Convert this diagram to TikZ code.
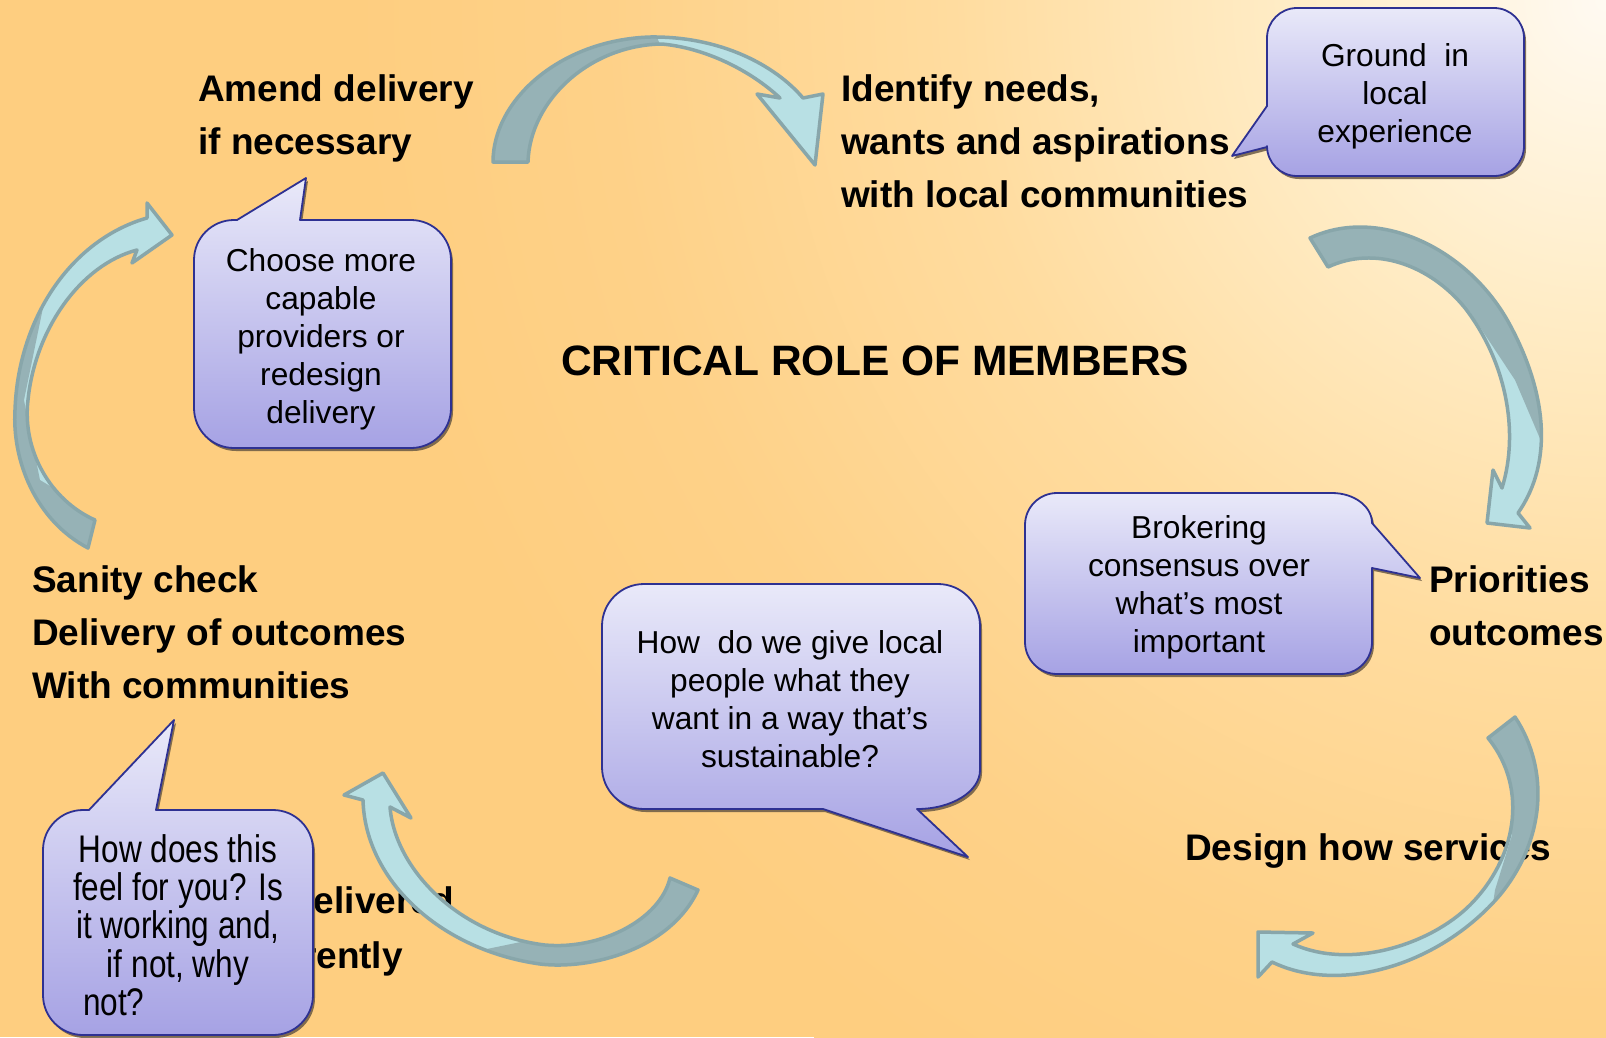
\documentclass[tikz,border=0pt]{standalone}
\usepackage{fontspec}
\setmainfont{Liberation Sans}
\newfontfamily\narrowfont[FakeStretch=0.82]{Liberation Sans}
\usetikzlibrary{shadows}
\definecolor{bgorange}{HTML}{FECE80}
\definecolor{bgcream}{HTML}{FFFAF2}
\definecolor{bgc1}{HTML}{FFEDC8}
\definecolor{bgc2}{HTML}{FFDC9F}
\definecolor{bgc3}{HTML}{FED188}
\definecolor{alight}{HTML}{B8E0E4}
\definecolor{adark}{HTML}{96B2B6}
\definecolor{aline}{HTML}{88A6AA}
\definecolor{ctop}{HTML}{E9E9F9}
\definecolor{cbot}{HTML}{A6A2E4}
\definecolor{cline}{HTML}{2E3192}
\definecolor{cshadow}{HTML}{6B5A45}
\pgfdeclareradialshading{bgrad}{\pgfpoint{0bp}{0bp}}{color(0bp)=(bgcream); color(300bp)=(bgc1); color(650bp)=(bgc2); color(1000bp)=(bgc3); color(1250bp)=(bgorange); color(1300bp)=(bgorange)}
\begin{document}
\begin{tikzpicture}[x=1pt,y=-1pt,
  lbl/.style={font=\bfseries\fontsize{37}{53.3}\selectfont, align=left, inner sep=0pt},
  ttl/.style={font=\bfseries\fontsize{42.5}{50}\selectfont, inner sep=0pt},
  ctext/.style={font=\fontsize{31.7}{38.1}\selectfont, align=center, inner sep=0pt},
  ntext/.style={font=\narrowfont\fontsize{38.5}{38.3}\selectfont, align=center, inner sep=0pt},
  callbox/.style={draw=cline, line width=1.8pt, line join=round, top color=ctop, bottom color=cbot,
     drop shadow={shadow xshift=2pt, shadow yshift=-3pt, fill=cshadow, opacity=0.85}},
  arrowfill/.style={fill=alight},
  arrowdark/.style={fill=adark},
  arrowedge/.style={draw=aline, line width=3.5pt, line join=round}]

% background
\useasboundingbox (0,0) rectangle (1606,1037);
\fill[bgorange] (0,0) rectangle (1606,1037);
\begin{scope}
  \clip (0,0) rectangle (1606,1037);
  \node[inner sep=0pt, outer sep=0pt] (glow) at (1606,0) {\pgfuseshading{bgrad}};
\end{scope}

% bold labels
\node[lbl, anchor=north west] (amend) at (198,74) {Amend delivery\\if necessary};
\node[lbl, anchor=north west] (identify) at (841,74) {Identify needs,\\wants and aspirations\\with local communities};
\node[lbl, anchor=north west] (priorities) at (1429,565) {Priorities\\outcomes};
\node[lbl, anchor=north west] (design) at (1185,833) {Design how services};
\node[lbl, anchor=north west] (sanity) at (32,565) {Sanity check\\Delivery of outcomes\\With communities};
\node[lbl, anchor=base east] (delivered) at (454,913) {delivered};
\node[lbl, anchor=base east] (differently) at (403,968) {rently};
\node[ttl, anchor=base west] (title) at (561,375) {CRITICAL ROLE OF MEMBERS};

% curved arrows
\def\arrowA{(493,162) .. controls (493,100) and (560,40) .. (650,37) .. controls (720,36) and (775,65) .. (803,98) -- (823,94) -- (815,165) -- (757,94) -- (780,98) .. controls (750,70) and (705,48) .. (662,44) .. controls (590,45) and (530,100) .. (528,162) -- cycle}
\def\arrowB{(1310,238) .. controls (1380,205) and (1470,250) .. (1510,325) .. controls (1545,390) and (1555,460) .. (1518,513) -- (1530,528) -- (1487,523) -- (1493,470) -- (1502,488) .. controls (1520,430) and (1505,360) .. (1465,308) .. controls (1430,265) and (1375,245) .. (1328,267) -- cycle}
\def\arrowC{(1515,717) .. controls (1550,770) and (1545,840) .. (1500,895) .. controls (1440,965) and (1340,995) .. (1272,962) -- (1258,977) -- (1258,932) -- (1313,933) -- (1293,944) .. controls (1350,970) and (1430,945) .. (1470,905) .. controls (1515,860) and (1530,790) .. (1488,738) -- cycle}
\def\arrowD{(698,890) .. controls (670,950) and (590,970) .. (540,964) .. controls (440,950) and (365,880) .. (363,800) -- (344,795) -- (383,773) -- (411,818) -- (390,807) .. controls (395,870) and (460,935) .. (545,945) .. controls (600,950) and (660,920) .. (670,878) -- cycle}
\def\arrowE{(88,548) .. controls (35,520) and (12,460) .. (15,410) .. controls (18,320) and (70,240) .. (147,218) -- (147,203) -- (172,235) -- (132,263) -- (137,250) .. controls (80,265) and (35,330) .. (28,400) .. controls (22,450) and (50,500) .. (95,520) -- cycle}

\fill[arrowfill] \arrowA;
\begin{scope}\clip \arrowA;
  \fill[arrowdark] (480,180) -- (480,10) -- (655,10) -- (658,40) -- (668,60) -- (540,180) -- cycle;
\end{scope}
\draw[arrowedge] \arrowA;

\fill[arrowfill] \arrowB;
\begin{scope}\clip \arrowB;
  \fill[arrowdark] (1280,200) -- (1420,180) -- (1540,280) -- (1580,400) -- (1570,470) -- (1547,455) -- (1515,380) -- (1470,312) -- (1440,290) -- (1400,300) -- (1300,300) -- cycle;
\end{scope}
\draw[arrowedge] \arrowB;

\fill[arrowfill] \arrowC;
\begin{scope}\clip \arrowC;
  \fill[arrowdark] (1460,720) -- (1530,690) -- (1580,780) -- (1570,880) -- (1490,925) -- (1495,890) -- (1512,835) -- (1490,800) -- (1460,740) -- cycle;
\end{scope}
\draw[arrowedge] \arrowC;

\fill[arrowfill] \arrowD;
\begin{scope}\clip \arrowD;
  \fill[arrowdark] (720,860) -- (720,990) -- (480,990) -- (482,950) -- (540,938) -- (650,900) -- (660,860) -- cycle;
\end{scope}
\draw[arrowedge] \arrowD;

\fill[arrowfill] \arrowE;
\begin{scope}\clip \arrowE;
  \fill[arrowdark] (110,560) -- (0,560) -- (0,300) -- (45,298) -- (24,400) -- (40,480) -- (100,516) -- cycle;
\end{scope}
\draw[arrowedge] \arrowE;

% callouts
\path[callbox] (1297,8) -- (1494,8) arc[start angle=-90,end angle=0,radius=30] -- (1524,146) arc[start angle=0,end angle=90,radius=30] -- (1297,176) arc[start angle=90,end angle=180,radius=30] -- (1267,147) -- (1232,156) -- (1267,106) -- (1267,38) arc[start angle=180,end angle=270,radius=30] -- cycle;
\node[ctext, anchor=north] (ground) at (1395,43) {Ground\ \ in\\local\\experience};

\path[callbox] (237,220) -- (306,178) -- (300,220) -- (411,220) arc[start angle=-90,end angle=0,radius=40] -- (451,408) arc[start angle=0,end angle=90,radius=40] -- (234,448) arc[start angle=90,end angle=180,radius=40] -- (194,260) arc[start angle=180,end angle=270,radius=40] -- cycle;
\node[ctext, anchor=north] (choose) at (321,248) {Choose more\\capable\\providers or\\redesign\\delivery};

\path[callbox] (1057,493) -- (1332,493) arc[start angle=-90,end angle=0,x radius=40,y radius=30] -- (1420,578) -- (1372,568) -- (1372,642) arc[start angle=0,end angle=90,radius=32] -- (1057,674) arc[start angle=90,end angle=180,radius=32] -- (1025,525) arc[start angle=180,end angle=270,radius=32] -- cycle;
\node[ctext, anchor=north] (brokering) at (1199,515) {Brokering\\consensus over\\what’s most\\important};

\path[callbox] (644,584) -- (938,584) arc[start angle=-90,end angle=0,radius=42] -- (980,770) arc[start angle=0,end angle=90,x radius=63,y radius=39] -- (968,857) -- (823,809) -- (644,809) arc[start angle=90,end angle=180,radius=42] -- (602,626) arc[start angle=180,end angle=270,radius=42] -- cycle;
\node[ctext, anchor=north] (howgive) at (790,630) {How\ \ do we give local\\people what they\\want in a way that’s\\sustainable?};

\path[callbox] (89,810) -- (174,720) -- (156,810) -- (273,810) arc[start angle=-90,end angle=0,radius=40] -- (313,995) arc[start angle=0,end angle=90,radius=40] -- (83,1035) arc[start angle=90,end angle=180,radius=40] -- (43,850) arc[start angle=180,end angle=270,radius=40] -- cycle;
\node[ntext, anchor=north] (howfeel) at (178,834) {How does this\\feel for you? Is\\it working and,\\if not, why\\\makebox[190pt][l]{not?}};

\end{tikzpicture}
\end{document}
